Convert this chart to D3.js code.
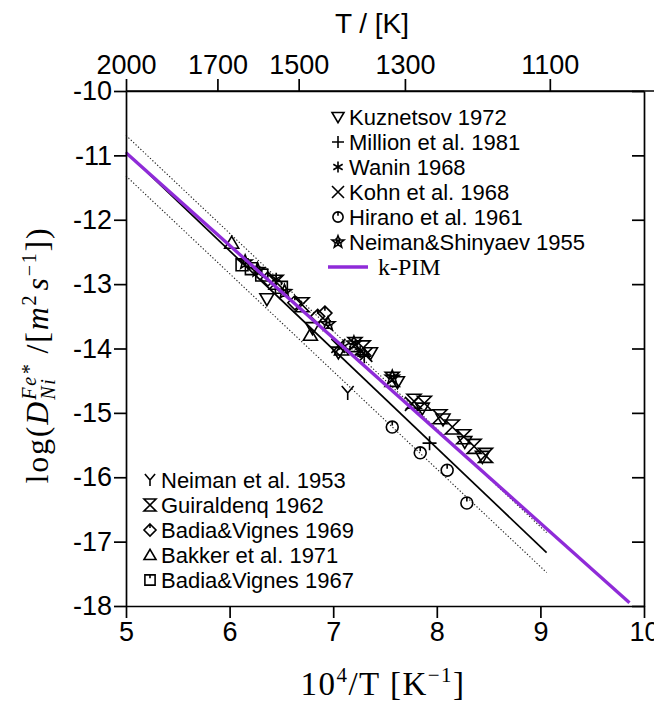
<!DOCTYPE html>
<html><head><meta charset="utf-8">
<script src="https://cdn.jsdelivr.net/npm/d3@7"></script>
<style>
html,body{margin:0;padding:0;background:#fff;}
svg{display:block;}
</style></head>
<body>
<svg id="chart" width="654" height="702"></svg>
<script>
// ---------- data ----------
const xTicks = [5, 6, 7, 8, 9, 10];
const yTicks = [-10, -11, -12, -13, -14, -15, -16, -17, -18];
const tempTicks = [2000, 1700, 1500, 1300, 1100];

const kuznetsov = [[6.36,-13.23],[6.80,-13.68],[7.05,-14.06],[7.36,-14.07],[7.62,-14.52],[7.86,-14.93],[8.06,-15.10],[8.27,-15.45],[8.44,-15.68]];
const million = [[7.93,-15.47],[7.30,-14.12]];
const wanin = [[6.45,-12.92],[7.10,-13.97],[7.26,-14.05]];
const kohn = [[7.05,-13.96],[7.31,-14.10],[7.76,-14.86]];
const hirano = [[7.57,-15.22],[7.84,-15.62],[8.10,-15.89],[8.29,-16.40]];
const neimanShinyaev = [[6.15,-12.66],[6.27,-12.78],[6.53,-13.12],[6.95,-13.62],[7.20,-13.92],[7.57,-14.45]];
const neiman1953 = [[7.14,-14.69]];
const guiraldenq = [[6.45,-12.97],[6.70,-13.32],[7.21,-13.94],[7.29,-13.99],[7.57,-14.48],[7.78,-14.82],[7.88,-14.85],[8.03,-15.06],[8.15,-15.22],[8.26,-15.37],[8.36,-15.52],[8.47,-15.66]];
const badia1969 = [[6.37,-12.92],[6.63,-13.29],[6.85,-13.50],[6.92,-13.45]];
const bakker = [[6.02,-12.36],[6.78,-13.79],[7.08,-14.02]];
const badia1967 = [[6.12,-12.70],[6.21,-12.76],[6.31,-12.86],[6.50,-13.05]];

const fitLine = [[5,-10.95],[9.06,-17.17]];
const upperBound = [[5,-10.69],[9.06,-16.86]];
const lowerBound = [[5,-11.32],[9.06,-17.48]];
const kpimLine = [[5,-10.96],[9.86,-17.95]];

const legendTop = [
  {label:"Kuznetsov 1972", sym:"triDown"},
  {label:"Million et al. 1981", sym:"plus"},
  {label:"Wanin 1968", sym:"aster"},
  {label:"Kohn et al. 1968", sym:"cross"},
  {label:"Hirano et al. 1961", sym:"circTick"},
  {label:"Neiman&Shinyaev 1955", sym:"star"}
];
const legendBottom = [
  {label:"Neiman et al. 1953", sym:"yshape"},
  {label:"Guiraldenq 1962", sym:"hourglass"},
  {label:"Badia&Vignes 1969", sym:"diamond"},
  {label:"Bakker et al. 1971", sym:"triUp"},
  {label:"Badia&Vignes 1967", sym:"square"}
];
const seriesList = [
  {data:guiraldenq, sym:"hourglass"},
  {data:kuznetsov, sym:"triDown"},
  {data:badia1967, sym:"square"},
  {data:badia1969, sym:"diamond"},
  {data:bakker, sym:"triUp"},
  {data:neimanShinyaev, sym:"star"},
  {data:wanin, sym:"aster"},
  {data:kohn, sym:"cross"},
  {data:million, sym:"plus"},
  {data:hirano, sym:"circTick"},
  {data:neiman1953, sym:"yshape"}
];

// ---------- setup ----------
const svg = d3.select("#chart");
const L = 126, R = 644, T = 91, B = 606;
const x = d3.scaleLinear().domain([5,10]).range([L,R]);
const y = d3.scaleLinear().domain([-10,-18]).range([T,B]);
const sans = "'Liberation Sans', Arial, Helvetica, sans-serif";
const serif = "'Liberation Serif', 'Times New Roman', serif";
const purple = "#8f2bd8";

function symPath(type, s){
  switch(type){
    case "triDown": return `M${-s},${-s*0.75}L${s},${-s*0.75}L0,${s*0.95}Z`;
    case "triUp": return `M${-s},${s*0.75}L${s},${s*0.75}L0,${-s*0.95}Z`;
    case "plus": return `M${-s},0H${s}M0,${-s}V${s}`;
    case "cross": return `M${-s},${-s}L${s},${s}M${-s},${s}L${s},${-s}`;
    case "aster": {
      let p="";
      [90,30,150].forEach(a=>{const r=a*Math.PI/180;const dx=s*0.9*Math.cos(r), dy=s*0.9*Math.sin(r);p+=`M${-dx},${-dy}L${dx},${dy}`;});
      return p;
    }
    case "circTick": { const r=s*0.85; return `M${r},0A${r},${r} 0 1,1 ${-r},0A${r},${r} 0 1,1 ${r},0M0,${-r}V${-r*0.25}`; }
    case "star": {
      let p=""; for(let i=0;i<10;i++){const a=-Math.PI/2+i*Math.PI/5;const rr=i%2?s*0.45:s*1.05;p+=(i?"L":"M")+(rr*Math.cos(a)).toFixed(2)+","+(rr*Math.sin(a)).toFixed(2);} p+="Z";
      let q=""; for(let i=0;i<10;i++){const a=Math.PI/2+i*Math.PI/5;const rr=i%2?s*0.2:s*0.45;q+=(i?"L":"M")+(rr*Math.cos(a)).toFixed(2)+","+(rr*Math.sin(a)).toFixed(2);} q+="Z";
      return p+q;
    }
    case "yshape": return `M0,${s}V0L${-s*0.85},${-s}M0,0L${s*0.85},${-s}`;
    case "hourglass": return `M${-s},${-s}H${s}L${-s},${s}H${s}Z`;
    case "diamond": return `M0,${-s}L${s},0L0,${s}L${-s},0ZM0,${-s}V${-s*0.35}`;
    case "square": return `M${-s*0.85},${-s*0.85}H${s*0.85}V${s*0.85}H${-s*0.85}ZM0,${-s*0.85}V${-s*0.3}`;
  }
  return "";
}

// ---------- lines ----------
const line = d3.line().x(d=>x(d[0])).y(d=>y(d[1]));
svg.append("path").attr("d", line(upperBound)).attr("fill","none").attr("stroke","#222").attr("stroke-width",1.1).attr("stroke-dasharray","1.3,2");
svg.append("path").attr("d", line(lowerBound)).attr("fill","none").attr("stroke","#222").attr("stroke-width",1.1).attr("stroke-dasharray","1.3,2");
svg.append("path").attr("d", line(fitLine)).attr("fill","none").attr("stroke","#000").attr("stroke-width",1.7);

// ---------- markers ----------
seriesList.forEach(s=>{
  svg.append("g").selectAll("path").data(s.data).join("path")
    .attr("transform", d=>`translate(${x(d[0])},${y(d[1])})`)
    .attr("d", symPath(s.sym, 7))
    .attr("fill","none").attr("stroke","#000").attr("stroke-width",1.6);
});

svg.append("path").attr("d", line(kpimLine)).attr("fill","none").attr("stroke",purple).attr("stroke-width",3.3);

// ---------- axes ----------
function styleAxis(g){
  g.selectAll("path.domain").attr("stroke","#000").attr("stroke-width",1.7);
  g.selectAll(".tick line").attr("stroke","#000").attr("stroke-width",1.7);
  g.selectAll("text").attr("fill","#000").style("font-family",sans).style("font-size","27px");
}
const gB = svg.append("g").attr("transform",`translate(0,${B})`)
  .call(d3.axisBottom(x).tickValues(xTicks).tickFormat(d=>String(d)).tickSize(12).tickSizeOuter(0).tickPadding(4));
styleAxis(gB);
const gL = svg.append("g").attr("transform",`translate(${L},0)`)
  .call(d3.axisLeft(y).tickValues(yTicks).tickFormat(d=>String(d)).tickSize(12).tickSizeOuter(0).tickPadding(2));
styleAxis(gL);
const gR = svg.append("g").attr("transform",`translate(${R},0)`)
  .call(d3.axisRight(y).tickValues(yTicks).tickFormat("").tickSize(-12).tickSizeOuter(0));
styleAxis(gR);
const gT = svg.append("g").attr("transform",`translate(0,${T})`)
  .call(d3.axisTop(x).tickValues(tempTicks.map(t=>1e4/t)).tickFormat((d,i)=>tempTicks[i]).tickSize(12).tickSizeOuter(0).tickPadding(5));
styleAxis(gT);
// top border extension to right edge
svg.append("line").attr("x1",L).attr("x2",654).attr("y1",T).attr("y2",T).attr("stroke","#000").attr("stroke-width",1.7);

// ---------- titles ----------
svg.append("text").attr("x",372).attr("y",33).attr("text-anchor","middle")
  .style("font-family",sans).style("font-size","28px").text("T / [K]");

const bt = svg.append("text").attr("x",383).attr("y",695).attr("text-anchor","middle")
  .style("font-family",serif).style("font-size","33px").style("letter-spacing","1.5px");
bt.append("tspan").text("10");
bt.append("tspan").attr("dy",-13).style("font-size","21px").text("4");
bt.append("tspan").attr("dy",13).text("/T [K");
bt.append("tspan").attr("dy",-13).style("font-size","21px").text("−1");
bt.append("tspan").attr("dy",13).text("]");

const yt = svg.append("text").attr("transform","translate(48,355) rotate(-90)").attr("text-anchor","middle")
  .style("font-family",serif).style("font-size","32px").style("letter-spacing","1.8px");
yt.append("tspan").text("log(");
yt.append("tspan").style("font-style","italic").text("D");
const sub = yt.append("tspan").attr("dy",7).style("font-style","italic").style("font-size","20px").text("Ni");
const sup = yt.append("tspan").attr("dy",-19).style("font-style","italic").style("font-size","20px").text("Fe*");
yt.append("tspan").attr("dy",12).text(" /[");
yt.append("tspan").style("font-style","italic").text("m");
yt.append("tspan").attr("dy",-12).style("font-size","20px").text("2");
yt.append("tspan").attr("dy",12).attr("dx",3).style("font-style","italic").text("s");
yt.append("tspan").attr("dy",-12).style("font-size","20px").text("−1");
yt.append("tspan").attr("dy",12).text("])");
sup.attr("dx", -sub.node().getComputedTextLength());

// ---------- legends ----------
const lt = svg.append("g");
legendTop.forEach((d,i)=>{
  const yy = 117 + i*25;
  lt.append("path").attr("transform",`translate(338,${yy})`).attr("d",symPath(d.sym,6))
    .attr("fill","none").attr("stroke","#000").attr("stroke-width",1.6);
  lt.append("text").attr("x",349).attr("y",yy+8).style("font-family",sans).style("font-size","22px").text(d.label);
});
lt.append("line").attr("x1",328).attr("x2",368).attr("y1",267).attr("y2",267).attr("stroke",purple).attr("stroke-width",3.3);
lt.append("text").attr("x",378).attr("y",275).style("font-family",serif).style("font-size","24px").text("k-PIM");

const lb = svg.append("g");
legendBottom.forEach((d,i)=>{
  const yy = 480 + i*25;
  lb.append("path").attr("transform",`translate(150,${yy})`).attr("d",symPath(d.sym,6))
    .attr("fill","none").attr("stroke","#000").attr("stroke-width",1.6);
  lb.append("text").attr("x",161).attr("y",yy+8).style("font-family",sans).style("font-size","22px").text(d.label);
});
</script>
</body></html>
